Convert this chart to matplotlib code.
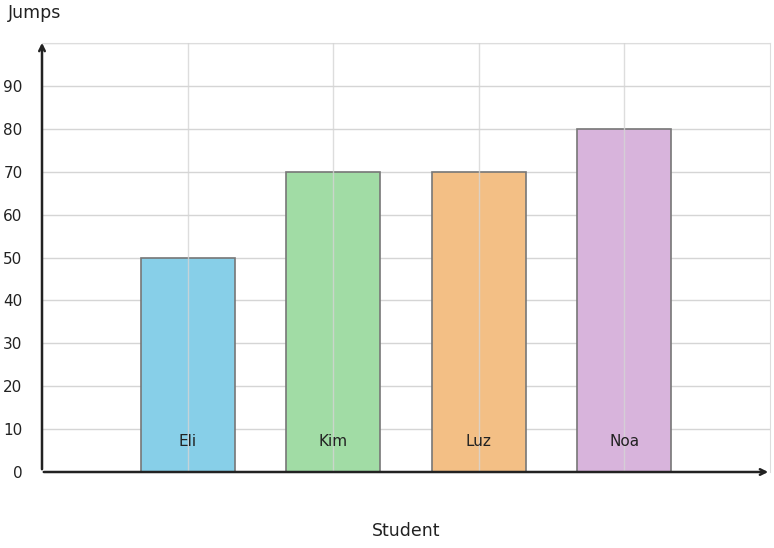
import matplotlib
matplotlib.use("Agg")
import matplotlib.pyplot as plt

students = ["Eli", "Kim", "Luz", "Noa"]
jumps = [50, 70, 70, 80]
colors = ["#87cfe8", "#a1dca5", "#f3bf85", "#d8b4dc"]
yticks = [0, 10, 20, 30, 40, 50, 60, 70, 80, 90]

W, H = 774, 548
fig = plt.figure(figsize=(W/100, H/100), dpi=100)
ax = fig.add_axes([42/W, 1-472/H, (770-42)/W, (472-43)/H])
ax.set_xlim(0, 5)
ax.set_ylim(0, 100)
xs = list(range(1, len(students)+1))
ax.bar(xs, jumps, width=0.645, color=colors, edgecolor="#777777", linewidth=1.2, zorder=2)
for x in xs:
    ax.axvline(x, color="#d5d5d5", lw=1, zorder=3, alpha=0.8)
for y in yticks[1:] + [100]:
    ax.axhline(y, color="#d5d5d5", lw=1, zorder=1)
for x, s in zip(xs, students):
    ax.text(x, 7, s, ha="center", va="center", fontsize=11, color="#222222", zorder=4)
ax.set_yticks(yticks)
ax.set_yticklabels([str(v) for v in yticks], fontsize=11, color="#222222")
ax.set_xticks([])
ax.tick_params(axis="y", length=0, pad=14)
for s in ["top", "right"]:
    ax.spines[s].set_color("#dddddd")
for s in ["left", "bottom"]:
    ax.spines[s].set_visible(False)
ax.annotate("", xy=(42/W, 1-40/H), xytext=(42/W, 1-472/H), xycoords="figure fraction",
            arrowprops=dict(arrowstyle="->", color="#222222", lw=1.8))
ax.annotate("", xy=(771/W, 1-472/H), xytext=(41/W, 1-472/H), xycoords="figure fraction",
            arrowprops=dict(arrowstyle="->", color="#222222", lw=1.8))
fig.text(8/W, 1-13/H, "Jumps", fontsize=12.5, ha="left", va="center", color="#222222")
fig.text(406/W, 1-531/H, "Student", fontsize=12.5, ha="center", va="center", color="#222222")
fig.savefig("out.png", dpi=100)
